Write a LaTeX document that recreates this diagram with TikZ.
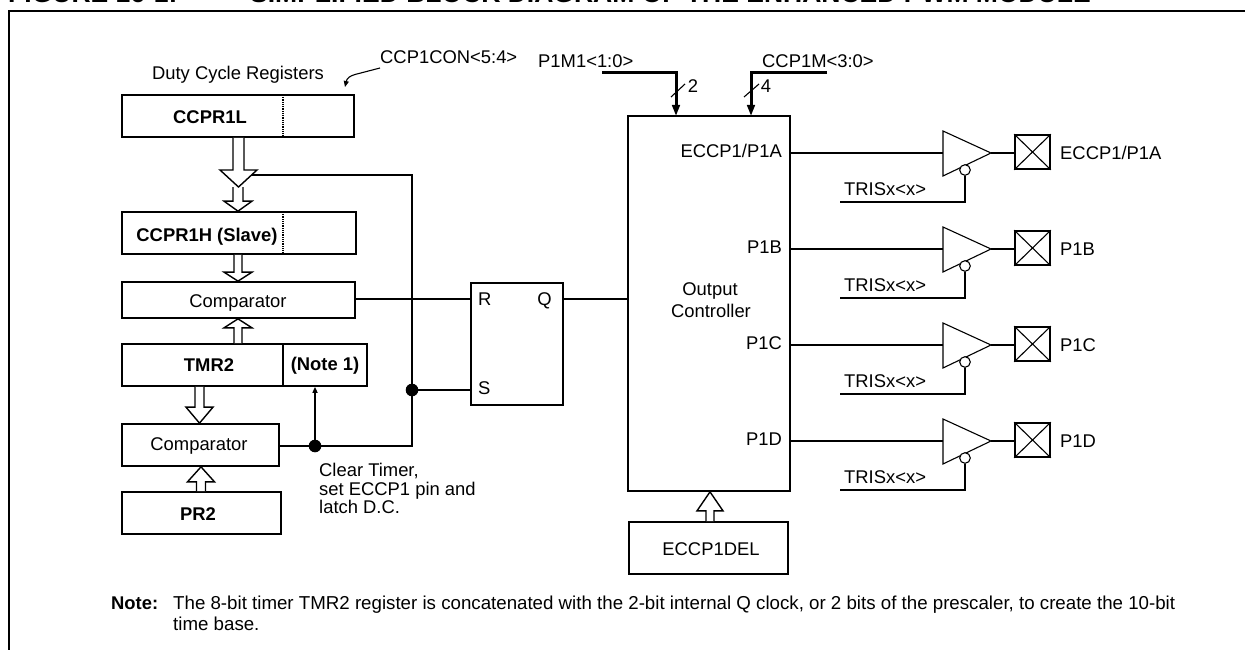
\documentclass[tikz,border=0pt]{standalone}
\usepackage{fontspec}
\setmainfont{Liberation Sans}
\usetikzlibrary{arrows.meta,calc}
\newcommand{\fs}[1]{\fontsize{#1pt}{#1pt}\selectfont}
% hollow block arrow: from anchor, to anchor, centre x, shaft half, head half, signed head length
\newcommand{\hollowarrow}[6]{%
  \coordinate (hS) at (#3,0 |- #1);
  \coordinate (hT) at (#3,0 |- #2);
  \draw[hollow] ($(hS)+(-#4,0)$) -- ($(hT)+(-#4,-#6)$) -- ($(hT)+(-#5,-#6)$) -- (hT)
     -- ($(hT)+(#5,-#6)$) -- ($(hT)+(#4,-#6)$) -- ($(hS)+(#4,0)$);
}
\tikzset{
  box/.style={draw=black,line width=1.7pt,fill=white,inner sep=0pt},
  lbl/.style={inner sep=0pt,text height=13.2pt,text depth=0pt,font=\fs{18.4}},
  bold/.style={lbl,font=\fs{18.4}\bfseries},
  wire/.style={draw=black,line width=1.7pt},
  thin wire/.style={draw=black,line width=1.1pt},
  bus/.style={draw=black,line width=3pt},
  hollow/.style={draw=black,line width=1.4pt,fill=white},
  dotdiv/.style={draw=black,line width=2pt,dash pattern=on 1pt off 0.8pt},
  dot/.style={circle,fill=black,draw=none,minimum size=12.6pt,inner sep=0pt},
  bubble/.style={circle,draw=black,line width=1.1pt,fill=white,minimum size=10.6pt,inner sep=0pt},
  tip/.style={-{Triangle[length=11pt,width=7.5pt]}},
  smalltip/.style={-{Triangle[length=6pt,width=5pt]}},
}
\begin{document}
\begin{tikzpicture}[x=1pt,y=-1pt]
\useasboundingbox (0,0) rectangle (1245,650);
% title (cut by the page edge)
\node[inner sep=0pt,anchor=base west,font=\fs{26.5}\bfseries] (t1) at (8,3) {FIGURE 16-1:};
\node[inner sep=0pt,anchor=base west,font=\fs{26.5}\bfseries] (t2) at (250,3) {SIMPLIFIED BLOCK DIAGRAM OF THE ENHANCED PWM MODULE};
% frame
\coordinate (fa) at (9,650); \coordinate (fb) at (9,11); \coordinate (fc) at (1245,11);
\draw[line width=2.2pt] (fa) -- (fb) -- (fc);

% left registers
\node[box,minimum width=232pt,minimum height=42pt] (ccprl) at (238,116) {};
\node[box,minimum width=234pt,minimum height=42pt] (ccprh) at (239,233) {};
\node[box,minimum width=233pt,minimum height=36pt] (cmpa) at (238.5,300) {};
\node[box,minimum width=245pt,minimum height=42pt] (tmr) at (244.5,365) {};
\node[box,minimum width=157pt,minimum height=42pt] (cmpb) at (200.5,445) {};
\node[box,minimum width=159pt,minimum height=42pt] (pr) at (201.5,513) {};
\coordinate (dla) at (283,95); \coordinate (dlb) at (283,137);
\coordinate (dha) at (283,212); \coordinate (dhb) at (283,254);
\draw[dotdiv] (dla) -- (dlb);
\draw[dotdiv] (dha) -- (dhb);
\coordinate (tma) at (283,344); \coordinate (tmb) at (283,386);
\draw[wire] (tma) -- (tmb);
\node[bold] (lccprl) at (210,117) {CCPR1L};
\node[bold] (lccprh) at (207,235) {CCPR1H (Slave)};
\node[lbl] (lcmpa) at (238,301) {Comparator};
\node[bold] (ltmr) at (209,365) {TMR2};
\node[bold] (lnote) at (325,364) {(Note 1)};
\node[lbl] (lcmpb) at (199,444) {Comparator};
\node[bold] (lpr) at (198,514) {PR2};
\node[lbl] (lduty) at (238,73) {Duty Cycle Registers};
\node[lbl,anchor=west] (lcon) at (380,57) {CCP1CON<5:4>};
\coordinate (cona) at (345,87);
\coordinate (conb) at (380,68);
\draw[thin wire,{Triangle[length=6pt,width=5pt]}-] (cona) .. controls (347,78) and (350,76) .. (355,74.5) -- (conb);

% block arrows
\coordinate (mergetip) at (238,187);
\hollowarrow{mergetip}{ccprh.north}{238}{5}{14}{10}
\hollowarrow{ccprl.south}{mergetip}{238.5}{5.5}{18.5}{17}
\hollowarrow{ccprh.south}{cmpa.north}{238}{4}{14}{9}
\hollowarrow{tmr.north}{cmpa.south}{238}{4}{14}{-9}
\hollowarrow{tmr.south}{cmpb.north}{199.5}{4.5}{13.5}{16}
\hollowarrow{pr.north}{cmpb.south}{201}{4.5}{13.5}{-15}

% feedback
\coordinate (jt) at (315,446);
\coordinate (js) at (412,390);
\coordinate (fbk) at (252,175);
\node[dot] (jtd) at (jt) {};
\node[dot] (jsd) at (js) {};
\draw[wire] (cmpb.east |- jt) -- (jt) -- (412,446) -- (js) -- (412,175) -- (fbk);
\draw[wire,smalltip] (jt) -- (jt |- tmr.south);
\node[inner sep=0pt,anchor=north west,align=left,font=\fontsize{18.4pt}{18.4pt}\selectfont] (lclear) at (319,463.4) {Clear Timer,\\set ECCP1 pin and\\latch D.C.};

% RS latch
\node[box,minimum width=92pt,minimum height=122pt] (latch) at (517,344) {};
\node[lbl,anchor=west] (lr) at (478,299) {R};
\node[lbl,anchor=west] (ls) at (478,388) {S};
\node[lbl,anchor=east] (lq) at (552,299) {Q};
\draw[wire] (cmpa.east |- 0,299) -- (latch.west |- 0,299);
\draw[wire] (js) -- (latch.west |- js);

% output controller
\node[box,minimum width=162pt,minimum height=375pt] (ctrl) at (709,303.5) {};
\draw[wire] (latch.east |- 0,299) -- (ctrl.west |- 0,299);
\node[lbl] (lout) at (710,289) {Output};
\node[lbl] (lctl) at (711,311) {Controller};
\node[box,minimum width=159pt,minimum height=52pt] (del) at (708.5,548) {};
\node[lbl] (ldel) at (711,549) {ECCP1DEL};
\hollowarrow{del.north}{ctrl.south}{710}{4}{13}{-19}

% top buses
\node[lbl,anchor=west] (lm1) at (538,61) {P1M1<1:0>};
\node[lbl,anchor=west] (lm2) at (762,61) {CCP1M<3:0>};
\coordinate (ba) at (602,73); \coordinate (bb) at (676,73); \coordinate (bbe) at (676,116);
\coordinate (ca) at (827,73); \coordinate (cb) at (751,73); \coordinate (cbe) at (751,116);
\draw[bus,tip] (ba) -- (bb) -- (bbe);
\draw[bus,tip] (ca) -- (cb) -- (cbe);
\coordinate (sa1) at (671,97); \coordinate (sa2) at (685,84);
\coordinate (sb1) at (744,97); \coordinate (sb2) at (759,84);
\draw[thin wire] (sa1) -- (sa2);
\draw[thin wire] (sb1) -- (sb2);
\node[lbl] (l2) at (693,86) {2};
\node[lbl] (l4) at (766,86) {4};

% output channels
\foreach \y/\n/\lab/\pin/\ty in {153/a/ECCP1\slash P1A/ECCP1\slash P1A/151, 249/b/P1B/P1B/247, 345/c/P1C/P1C/343, 441/d/P1D/P1D/439}{
  \node[lbl,anchor=east] (cl\n) at (782,\ty) {\lab};
  \coordinate (bw\n) at (943,\y);
  \coordinate (bt\n) at (943,\y-22);
  \coordinate (bb\n) at (943,\y+23);
  \coordinate (bo\n) at (991,\y);
  \draw[thin wire,line join=miter] (bt\n) -- (bo\n) -- (bb\n) -- cycle;
  \draw[wire] (ctrl.east |- bw\n) -- (bw\n);
  \node[bubble] (bub\n) at (965,\y+17) {};
  \coordinate (tr\n) at (840,\y+49);
  \draw[wire] (bub\n.south) -- (965,\y+49) -- (tr\n);
  \node[lbl,anchor=west] (ltr\n) at (844,\y+36) {TRISx<x>};
  \node[box,minimum width=35pt,minimum height=34pt] (pin\n) at (1032.5,\y-1) {};
  \draw[thin wire] (pin\n.south west) -- (pin\n.north east);
  \draw[thin wire] (pin\n.north west) -- (pin\n.south east);
  \draw[wire] (bo\n) -- (pin\n.west |- bo\n);
  \node[lbl,anchor=west] (lpin\n) at (1060,\y) {\pin};
}

% note
\node[inner sep=0pt,anchor=base west,font=\fs{18.4}\bfseries] (nt) at (111,609.6) {Note:};
\node[inner sep=0pt,anchor=north west,align=left,font=\fontsize{18.7pt}{21pt}\selectfont] (ntx) at (173,596.2) {The 8-bit timer TMR2 register is concatenated with the 2-bit internal Q clock, or 2 bits of the prescaler, to create the 10-bit\\time base.};
\end{tikzpicture}
\end{document}
